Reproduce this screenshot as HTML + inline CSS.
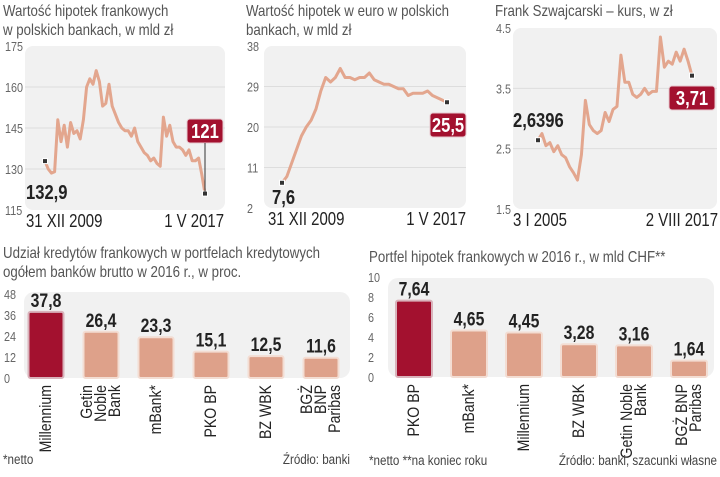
<!DOCTYPE html>
<html><head><meta charset="utf-8"><style>
body{margin:0;background:#fff;width:720px;height:472px;overflow:hidden;font-family:"Liberation Sans",sans-serif}
svg text{font-family:"Liberation Sans",sans-serif}
</style></head><body>
<svg id="s" width="720" height="472" viewBox="0 0 720 472" xmlns="http://www.w3.org/2000/svg"></svg>
<script>
const chfLoans=[132.9,130,128.5,129,148,140,146,138,147,143,144,141,148,160,163,161,166,162,153,154,161,153,150,147,145,144,144,142,145,140,138,136,135,133,134,132,131,149,142,146,140,138,138,137,135,137,133,133,134,128,121];
const eurLoans=[7.6,9,12,15,18,20,21.5,24,28,31,30,31,33,31,31,30.5,31,31,32,30.5,30,29.5,29.5,29,28.5,28.5,27,27.5,27.5,27.5,28,27,26.5,26,25.5];
const chfRate=[2.64,2.75,2.55,2.6,2.45,2.55,2.4,2.35,2.2,2.1,1.98,2.4,3.3,2.9,2.8,2.75,2.8,3.1,2.95,3.15,3.2,4.05,3.6,3.6,3.4,3.35,3.4,3.5,3.4,3.45,3.45,4.35,3.85,3.95,3.9,4.1,3.95,4.15,3.95,3.71];
const shareBanks=["Millennium","Getin|Noble|Bank","mBank*","PKO BP","BZ WBK","BGŻ|BNP|Paribas"];
const shareValues=[37.8,26.4,23.3,15.1,12.5,11.6];
const shareLabels=["37,8","26,4","23,3","15,1","12,5","11,6"];
const portBanks=["PKO BP","mBank*","Millennium","BZ WBK","Getin Noble|Bank","BGŻ BNP|Paribas"];
const portValues=[7.64,4.65,4.45,3.28,3.16,1.64];
const portLabels=["7,64","4,65","4,45","3,28","3,16","1,64"];

const S=document.getElementById('s');const NS='http://www.w3.org/2000/svg';
const SX=0.83;
function el(t,a,txt){const e=document.createElementNS(NS,t);
 if(t==='text'){const x=a.x,y=a.y;delete a.x;delete a.y;const rot=a.rot;delete a.rot;
  a.transform=`translate(${x},${y})`+(rot?` rotate(${rot})`:'')+` scale(${SX},1)`;}
 for(const k in a)e.setAttribute(k,a[k]);if(txt!=null)e.textContent=txt;S.appendChild(e);return e;}
const LINE='#e3a68e',RED='#a3112f',BAR='#dea18a';

function title(lines,x,y,name){lines.forEach((l,i)=>{const t=el('text',{x:x,y:y+i*19,'font-size':16,fill:'#555'},l);

});}

function lineChart(o){
 const {data,x0,px0,px1,yt,yb,vmin,vmax,ticks,name}=o;
 const bg=el('rect',{x:o.bx,y:yt,width:o.bw,height:yb-yt,rx:8,fill:'#f1f1f1'});
 
 
 const Y=v=>yb-(v-vmin)/(vmax-vmin)*(yb-yt);
 const X=i=>px0+i*(px1-px0)/(data.length-1);
 ticks.forEach((t,i)=>{const y=Y(t);
  if(i>0&&i<ticks.length-1){const g=el('line',{x1:o.bx,x2:o.bx+o.bw,y1:y,y2:y,stroke:'#ddd','stroke-width':1});
  
  }
  const lt=el('text',{x:x0,y:y+5,'font-size':13,fill:'#666'},o.tickLabels[i]);
  
  });
 const p=el('polyline',{points:data.map((v,i)=>X(i)+','+Y(v)).join(' '),fill:'none',stroke:LINE,'stroke-width':3,'stroke-linejoin':'round'});
 
 
 const f=data[0],l=data[data.length-1];
 [[X(0),Y(f)],[X(data.length-1),Y(l)]].forEach(([x,y])=>{const m=el('rect',{x:x-2.5,y:y-2.5,width:5,height:5,fill:'#333',stroke:'#fff','stroke-width':1});
  
  });
 const ft=el('text',{x:o.fx,y:o.fy,'font-size':20,'font-weight':'bold',fill:'#222'},o.firstLabel);
 
 
 const r=el('rect',{x:o.lx,y:o.ly,width:o.lw,height:24,rx:3,fill:RED,stroke:'#e7c9cf','stroke-width':1});
 
 
 const lt=el('text',{x:o.lx+o.lw/2,y:o.ly+19,'font-size':20,'font-weight':'bold',fill:'#fff','text-anchor':'middle'},o.lastLabel);
 
 
 if(o.leader){const ln=el('line',{x1:X(data.length-1),x2:X(data.length-1),y1:o.ly+24,y2:Y(l),stroke:'#333','stroke-width':1});
  
  }
 const d1=el('text',{x:o.dx0,y:yb+17,'font-size':18,fill:'#222'},o.d0);
 
 
 const d2=el('text',{x:o.dx1,y:yb+17,'font-size':18,fill:'#222','text-anchor':'end'},o.d1);
 
 
}

title(['Wartość hipotek frankowych','w polskich bankach, w mld zł'],3,16,'chart1-title');
lineChart({data:chfLoans,name:'chf-loans',x0:5,bx:25,bw:200,px0:45,px1:205,yt:46,yb:210,vmin:115,vmax:175,ticks:[175,160,145,130,115],tickLabels:['175','160','145','130','115'],firstLabel:'132,9',fx:26,fy:199,lastLabel:'121',lx:187,ly:119,lw:36,leader:true,d0:'31 XII 2009',d1:'1 V 2017',dx0:26,dx1:224});

title(['Wartość hipotek w euro w polskich','bankach, w mld zł'],246,16,'chart2-title');
lineChart({data:eurLoans,name:'eur-loans',x0:247,bx:264,bw:202,px0:282,px1:447,yt:46,yb:208,vmin:2,vmax:38,ticks:[38,29,20,11,2],tickLabels:['38','29','20','11','2'],firstLabel:'7,6',fx:272,fy:204,lastLabel:'25,5',lx:430,ly:113,lw:36,leader:false,d0:'31 XII 2009',d1:'1 V 2017',dx0:268,dx1:466});

title(['Frank Szwajcarski – kurs, w zł'],495,16,'chart3-title');
lineChart({data:chfRate,name:'chf-rate',x0:496,bx:513,bw:204,px0:538,px1:692,yt:28,yb:209,vmin:1.5,vmax:4.5,ticks:[4.5,3.5,2.5,1.5],tickLabels:['4.5','3.5','2.5','1.5'],firstLabel:'2,6396',fx:513,fy:127,lastLabel:'3,71',lx:669,ly:86,lw:46,leader:false,d0:'3 I 2005',d1:'2 VIII 2017',dx0:513,dx1:718});

function barChart(o){
 const {banks,values,labels,name}=o;
 const bg=el('rect',{x:o.bx,y:o.yt,width:o.bw,height:o.yb-o.yt,rx:10,fill:'#f1f1f1'});
 
 
 const Y=v=>o.yb-v/o.vmax*(o.yb-o.ytop);
 o.ticks.forEach(t=>{const tl=el('text',{x:o.tx,y:Y(t)+5,'font-size':13,fill:'#666'},String(t));
  
  });
 values.forEach((v,i)=>{const cx=o.c0+i*o.step;const y=Y(v);
  const b=el('rect',{x:cx-o.w/2,y:y,width:o.w,height:o.yb-y,rx:2,fill:i===0?RED:BAR,stroke:i===0?'#d9b3bb':'#f3ddd3','stroke-width':2});
  
  
  const vt=el('text',{x:cx,y:y-5,'font-size':19,'font-weight':'bold',fill:'#222','text-anchor':'middle'},labels[i]);
  
  
  const parts=banks[i].split('|');
  parts.forEach((p,j)=>{const off=(j-(parts.length-1)/2)*14;
   const t=el('text',{x:cx+5+off,y:o.yb+7,rot:-90,'font-size':17,fill:'#222','text-anchor':'end'},p);
   
   });
 });
}
title(['Udział kredytów frankowych w portfelach kredytowych','ogółem banków brutto w 2016 r., w proc.'],3,258,'chart4-title');
barChart({banks:shareBanks,values:shareValues,labels:shareLabels,name:'share',bx:24,bw:326,yt:292,yb:378,ytop:294,vmax:48,ticks:[48,36,24,12,0],tx:4,c0:46,step:55,w:35});
title(['Portfel hipotek frankowych w 2016 r., w mld CHF**'],369,262,'chart5-title');
barChart({banks:portBanks,values:portValues,labels:portLabels,name:'portfolio',bx:388,bw:326,yt:278,yb:377,ytop:277,vmax:10,ticks:[10,8,6,4,2,0],tx:368,c0:414,step:55,w:36});

[['*netto',3,464,'start','footnote-left'],['Źródło: banki',350,464,'end','source-left'],['*netto **na koniec roku',369,465,'start','footnote-right'],['Źródło: banki, szacunki własne',717,465,'end','source-right']].forEach(([t,x,y,a,n])=>{
 const e=el('text',{x:x,y:y,'font-size':14,fill:'#444','text-anchor':a},t);
 
 });
</script>
</body></html>
